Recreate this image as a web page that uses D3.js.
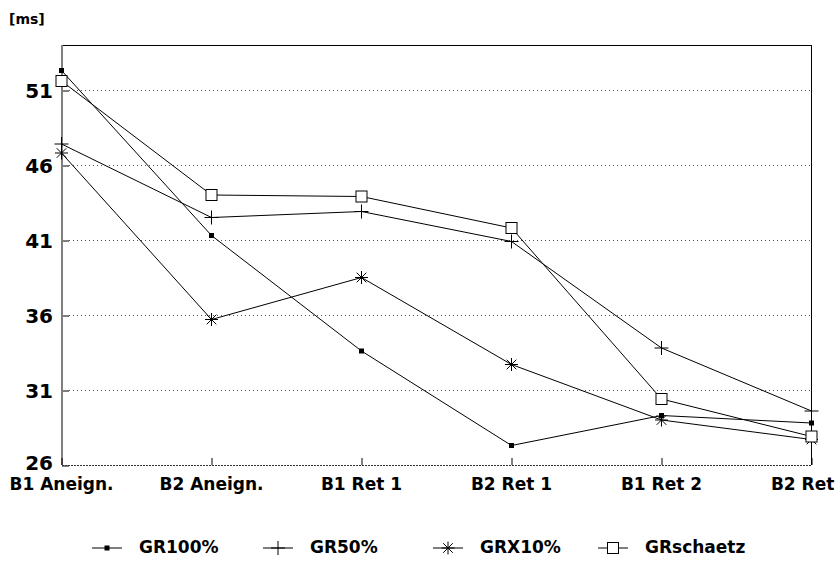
<!DOCTYPE html>
<html>
<head>
<meta charset="utf-8">
<script src="https://cdn.jsdelivr.net/npm/d3@7/dist/d3.min.js"></script>
<style>
  html, body { margin: 0; padding: 0; background: #fff; }
  svg { display: block; }
  text { font-family: "DejaVu Sans", sans-serif; font-weight: bold; fill: #000; }
</style>
</head>
<body>
<svg id="chart" width="837" height="563"></svg>
<script>
// ---- data ----
const categories = ["B1 Aneign.", "B2 Aneign.", "B1 Ret 1", "B2 Ret 1", "B1 Ret 2", "B2 Ret 2"];
const gr100 = [52.3, 41.3, 33.6, 27.3, 29.3, 28.8];
const gr50 = [47.4, 42.5, 42.9, 40.9, 33.8, 29.6];
const grx10 = [46.8, 35.7, 38.5, 32.7, 29.0, 27.7];
const grschaetz = [51.6, 44.0, 43.9, 41.8, 30.4, 27.9];
const seriesNames = ["GR100%", "GR50%", "GRX10%", "GRschaetz"];
const seriesMarkers = ["dot", "plus", "star", "square"];
const yTicks = [26, 31, 36, 41, 46, 51];
const yUnit = "[ms]";

(function () {
const series = [gr100, gr50, grx10, grschaetz].map((vals, i) => ({
  name: seriesNames[i], marker: seriesMarkers[i], values: vals
}));

const svg = d3.select("#chart");
const pLeft = 62, pRight = 811.5, pTop = 45, pBottom = 465;

const x = d3.scalePoint().domain(categories).range([61.5, 811.5]);
const y = d3.scaleLinear().domain([26, 54]).range([pBottom, pTop]);

// gridlines (dotted)
svg.append("g").selectAll("line").data(yTicks.filter(t => t > 26)).join("line")
  .attr("x1", pLeft + 7).attr("x2", pRight)
  .attr("y1", d => Math.round(y(d)) + 0.5).attr("y2", d => Math.round(y(d)) + 0.5)
  .attr("stroke", "#555").attr("stroke-width", 1).attr("stroke-dasharray", "1,3");

// top & right frame
svg.append("line").attr("x1", pLeft).attr("x2", pRight).attr("y1", pTop + 0.5).attr("y2", pTop + 0.5)
  .attr("stroke", "#000").attr("stroke-width", 1);
svg.append("line").attr("x1", pRight).attr("x2", pRight).attr("y1", pTop).attr("y2", pBottom)
  .attr("stroke", "#000").attr("stroke-width", 1);

// y axis
const yAxis = d3.axisRight(y).tickValues(yTicks).tickSize(7).tickFormat("");
const gy = svg.append("g").attr("transform", `translate(${pLeft},0.5)`).call(yAxis);
gy.select(".domain").remove();
gy.selectAll(".tick line").attr("stroke", "#000");
svg.append("line").attr("x1", pLeft).attr("x2", pLeft).attr("y1", pTop).attr("y2", pBottom)
  .attr("stroke", "#808080").attr("stroke-width", 2);
svg.append("g").selectAll("text").data(yTicks).join("text")
  .attr("x", 53).attr("y", d => y(d) + (d === 26 ? -1 : 2))
  .attr("text-anchor", "end").attr("dominant-baseline", "middle")
  .style("font-size", "20px").text(d => d);
svg.append("text").attr("x", 9).attr("y", 24).style("font-size", "14px").text(yUnit);

// x axis
const xAxis = d3.axisTop(x).tickSize(7).tickFormat("");
const gx = svg.append("g").attr("transform", `translate(0,${pBottom})`).call(xAxis);
gx.select(".domain").remove();
gx.selectAll(".tick line").attr("stroke", "#000");
svg.append("line").attr("x1", pLeft).attr("x2", pRight).attr("y1", pBottom + 0.5).attr("y2", pBottom + 0.5)
  .attr("stroke", "#333").attr("stroke-width", 1.2).attr("stroke-dasharray", "2,1");
svg.append("g").selectAll("text").data(categories).join("text")
  .attr("x", d => x(d)).attr("y", 490)
  .attr("text-anchor", "middle").style("font-size", "17px").text(d => d);

// markers
function drawMarker(g, type, cx, cy) {
  if (type === "dot") {
    g.append("rect").attr("x", cx - 2.5).attr("y", cy - 2.5).attr("width", 5).attr("height", 5).attr("fill", "#000");
  } else if (type === "plus") {
    g.append("line").attr("x1", cx - 7).attr("x2", cx + 7).attr("y1", cy).attr("y2", cy).attr("stroke", "#000");
    g.append("line").attr("x1", cx).attr("x2", cx).attr("y1", cy - 7).attr("y2", cy + 7).attr("stroke", "#000");
  } else if (type === "star") {
    const r = 6.5, d = 4.8;
    g.append("line").attr("x1", cx - r).attr("x2", cx + r).attr("y1", cy).attr("y2", cy).attr("stroke", "#000");
    g.append("line").attr("x1", cx).attr("x2", cx).attr("y1", cy - r).attr("y2", cy + r).attr("stroke", "#000");
    g.append("line").attr("x1", cx - d).attr("x2", cx + d).attr("y1", cy - d).attr("y2", cy + d).attr("stroke", "#000");
    g.append("line").attr("x1", cx - d).attr("x2", cx + d).attr("y1", cy + d).attr("y2", cy - d).attr("stroke", "#000");
  } else if (type === "square") {
    g.append("rect").attr("x", cx - 5.5).attr("y", cy - 5.5).attr("width", 11).attr("height", 11)
      .attr("fill", "#fff").attr("stroke", "#000");
  }
}

const line = d3.line().x((d, i) => x(categories[i])).y(d => y(d));
const plot = svg.append("g");
series.forEach(s => {
  plot.append("path").attr("d", line(s.values)).attr("fill", "none").attr("stroke", "#000").attr("stroke-width", 1);
});
series.forEach(s => {
  const g = plot.append("g");
  s.values.forEach((v, i) => drawMarker(g, s.marker, x(categories[i]), y(v)));
});

// legend
const legendLineX = [92, 263, 433, 598];
const legendY = 548;
series.forEach((s, i) => {
  const g = svg.append("g");
  const x0 = legendLineX[i];
  g.append("line").attr("x1", x0).attr("x2", x0 + 30).attr("y1", legendY).attr("y2", legendY).attr("stroke", "#000");
  drawMarker(g, s.marker, x0 + 15, legendY);
  g.append("text").attr("x", x0 + 47).attr("y", legendY).attr("dominant-baseline", "middle")
    .style("font-size", "17px").text(s.name);
});
})();
</script>
</body>
</html>
